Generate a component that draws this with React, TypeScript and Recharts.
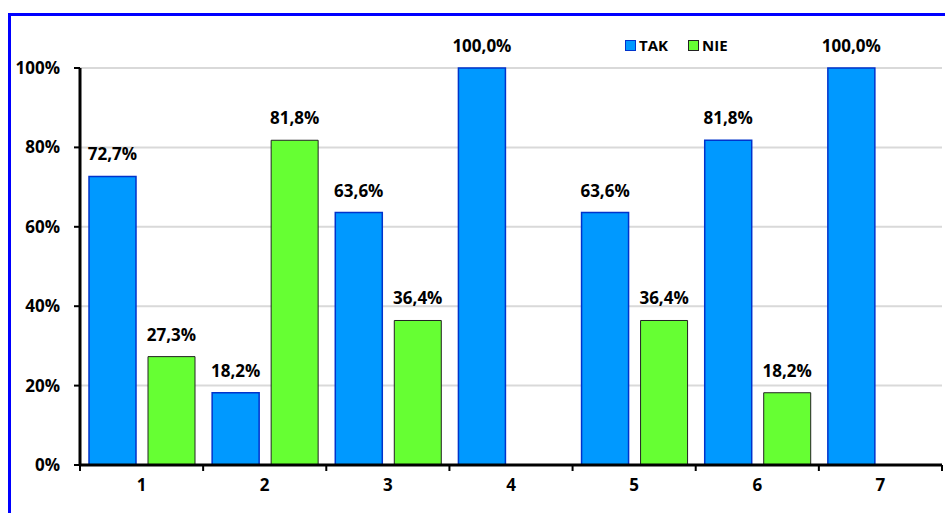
import {
  BarChart,
  Bar,
  XAxis,
  YAxis,
  CartesianGrid,
  Legend,
  LabelList,
} from "recharts";

const categories = ["1", "2", "3", "4", "5", "6", "7"];
const takValues = [72.7, 18.2, 63.6, 100, 63.6, 81.8, 100];
const nieValues = [27.3, 81.8, 36.4, 0, 36.4, 18.2, 0];
const yTicks = [0, 20, 40, 60, 80, 100];

const data = categories.map((name, i) => ({
  name,
  TAK: takValues[i],
  NIE: nieValues[i],
}));

const FONT = "'Open Sans', sans-serif";
const TICK_SIZE = 6;
const TICK_MARGIN = 8;

const formatPct = (v: number) =>
  v === 0 ? "" : v.toFixed(1).replace(".", ",") + "%";

// category labels sit in the middle, tick marks go on the band edges
function CategoryTick(props: any) {
  const { x, y, payload, index, visibleTicksCount } = props;
  const half = payload && payload.offset ? payload.offset : 0;
  const axisY = y - TICK_SIZE - TICK_MARGIN;
  const last = index === visibleTicksCount - 1;
  return (
    <g>
      <line x1={x - half} x2={x - half} y1={axisY} y2={axisY + TICK_SIZE} stroke="#000" strokeWidth={2} />
      {last && (
        <line x1={x + half} x2={x + half} y1={axisY} y2={axisY + TICK_SIZE} stroke="#000" strokeWidth={2} />
      )}
      <text x={x} y={y} dy="0.71em" textAnchor="middle" fontFamily={FONT} fontWeight={700} fontSize={17} fill="#000">
        {payload.value}
      </text>
    </g>
  );
}

function LegendBox() {
  const items = [
    { label: "TAK", fill: "#0099FF", stroke: "#0033CC" },
    { label: "NIE", fill: "#66FF33", stroke: "#222" },
  ];
  return (
    <div style={{ display: "flex", gap: 20, fontFamily: FONT, fontWeight: 700, fontSize: 15, color: "#000" }}>
      {items.map((it) => (
        <div key={it.label} style={{ display: "flex", alignItems: "center", gap: 3 }}>
          <span
            style={{
              width: 9,
              height: 9,
              background: it.fill,
              border: `1.5px solid ${it.stroke}`,
              display: "inline-block",
            }}
          />
          <span>{it.label}</span>
        </div>
      ))}
    </div>
  );
}

const labelStyle = { fill: "#000", fontFamily: FONT, fontWeight: 700, fontSize: 17 };

export default function App() {
  return (
    <div style={{ position: "absolute", left: 0, top: 0, width: 945, height: 513, overflow: "hidden", background: "#fff" }}>
      <div
        style={{
          position: "absolute",
          left: 8,
          top: 13,
          width: 1000,
          height: 600,
          borderLeft: "3px solid #0000FF",
          borderTop: "3px solid #0000FF",
        }}
      />
      <BarChart
        width={945}
        height={513}
        data={data}
        margin={{ top: 68, right: 3, bottom: 18, left: 0 }}
        barCategoryGap={9}
        barGap={12}
        style={{ position: "absolute", left: 0, top: 0 }}
      >
        <CartesianGrid vertical={false} stroke="#d9d9d9" strokeWidth={2} />
        <XAxis
          dataKey="name"
          height={30}
          tickLine={false}
          tickSize={TICK_SIZE}
          tickMargin={TICK_MARGIN}
          axisLine={{ stroke: "#000", strokeWidth: 3 }}
          tick={<CategoryTick />}
          interval={0}
        />
        <YAxis
          width={80}
          domain={[0, 100]}
          ticks={yTicks}
          tickFormatter={(v: number) => `${v}%`}
          tickSize={TICK_SIZE}
          tickMargin={14}
          axisLine={{ stroke: "#000", strokeWidth: 3 }}
          tickLine={{ stroke: "#000", strokeWidth: 2 }}
          tick={{ fill: "#000", fontFamily: FONT, fontWeight: 700, fontSize: 17 }}
        />
        <Legend
          layout="horizontal"
          verticalAlign="middle"
          align="center"
          content={<LegendBox />}
          wrapperStyle={{ position: "absolute", left: 625, top: 35, width: "auto" }}
        />
        <Bar dataKey="TAK" fill="#0099FF" stroke="#0033CC" strokeWidth={1.5} isAnimationActive={false}>
          <LabelList
            dataKey="TAK"
            position="top"
            offset={16}
            formatter={(v: any) => formatPct(Number(v))}
            style={labelStyle}
          />
        </Bar>
        <Bar dataKey="NIE" fill="#66FF33" stroke="#222" strokeWidth={1} isAnimationActive={false}>
          <LabelList
            dataKey="NIE"
            position="top"
            offset={16}
            formatter={(v: any) => formatPct(Number(v))}
            style={labelStyle}
          />
        </Bar>
      </BarChart>
    </div>
  );
}
